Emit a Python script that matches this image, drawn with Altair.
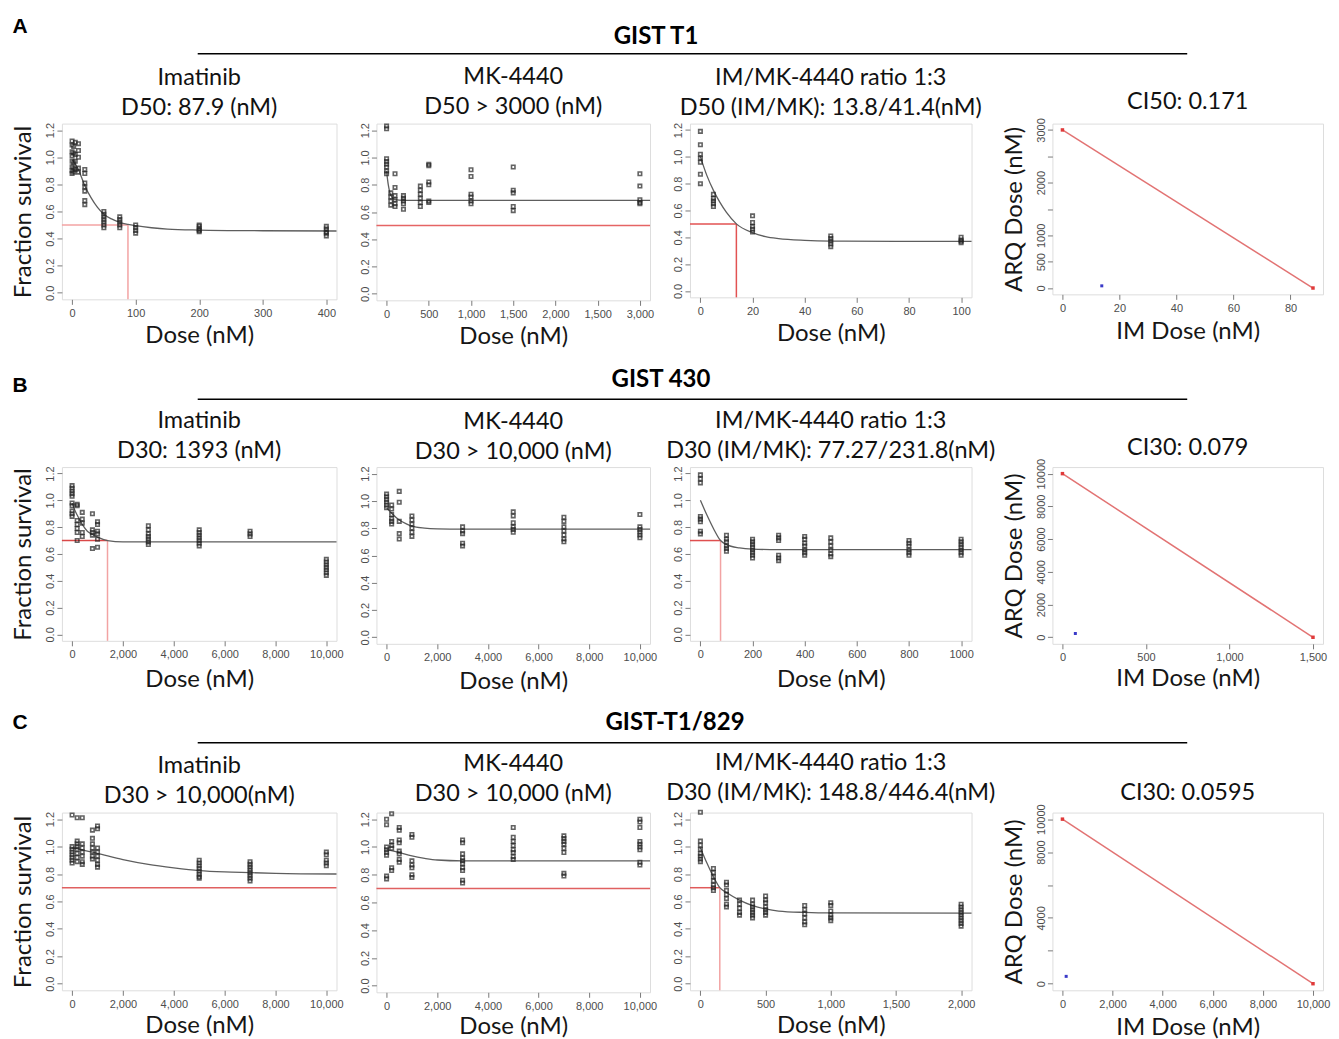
import altair as alt
import pandas as pd

TITLE_FONT = "Lato"
TICK_FONT = "Liberation Sans"

# ---------------- shared survival y axis ----------------
Y_TICKS = [0, 0.2, 0.4, 0.6, 0.8, 1.0, 1.2]
Y_LABELS = ["0.0", "0.2", "0.4", "0.6", "0.8", "1.0", "1.2"]
Y_LIM = [-0.048, 1.248]

COMMA_10K_TICKS = [0, 2000, 4000, 6000, 8000, 10000]
COMMA_10K_LABELS = ["0", "2,000", "4,000", "6,000", "8,000", "10,000"]

# ---------------- section headers ----------------
SECTION_LETTERS = ["A", "B", "C"]
SECTION_TITLES = ["GIST T1", "GIST 430", "GIST-T1/829"]

# ================= Row A : GIST T1 =================
A1_title = ["Imatinib", "D50: 87.9 (nM)"]
A1_dose = [0, 2.5, 5, 10, 20, 50, 75, 100, 200, 400]
A1_surv = [
    [1.12, 1.09, 1.04, 1.01, 0.97, 0.93, 0.90, 0.88],
    [1.08, 1.03, 0.96, 0.92, 0.89],
    [1.11, 1.02, 0.97, 0.91],
    [1.10, 1.05, 1.00, 0.92, 0.89],
    [0.91, 0.88, 0.81, 0.78, 0.75, 0.68, 0.65],
    [0.60, 0.58, 0.56, 0.54, 0.52, 0.50, 0.48],
    [0.56, 0.54, 0.52, 0.50, 0.48],
    [0.50, 0.48, 0.46, 0.44],
    [0.50, 0.49, 0.47, 0.46, 0.45],
    [0.49, 0.47, 0.45, 0.44, 0.42],
]
A1_curve_x = [0, 5, 10, 15, 20, 30, 40, 50, 62, 75, 87.9, 100, 125, 150, 200, 300, 416]
A1_curve_y = [0.98, 0.95, 0.91, 0.85, 0.79, 0.70, 0.63, 0.58, 0.545, 0.52, 0.505, 0.495, 0.48, 0.47, 0.463, 0.458, 0.456]
A1_xmax = 400
A1_xticks = [0, 100, 200, 300, 400]
A1_xlabels = ["0", "100", "200", "300", "400"]
A1_level, A1_d = 0.5, 87.9

A2_title = ["MK-4440", "D50 > 3000 (nM)"]
A2_dose = [0, 50, 100, 200, 400, 500, 1000, 1500, 3000]
A2_surv = [
    [1.23, 1.21, 0.99, 0.97, 0.95, 0.93, 0.90, 0.88],
    [0.74, 0.71, 0.68, 0.65],
    [0.88, 0.78, 0.72, 0.69, 0.66, 0.64],
    [0.72, 0.70, 0.68, 0.66, 0.62],
    [0.79, 0.76, 0.73, 0.70, 0.67, 0.64],
    [0.95, 0.94, 0.82, 0.80, 0.68, 0.67],
    [0.91, 0.86, 0.73, 0.71, 0.68, 0.66],
    [0.93, 0.76, 0.74, 0.64, 0.61],
    [0.88, 0.79, 0.69, 0.67, 0.66],
]
A2_curve_x = [0, 20, 40, 60, 100, 200, 400, 1000, 3120]
A2_curve_y = [0.90, 0.80, 0.74, 0.71, 0.69, 0.685, 0.685, 0.685, 0.685]
A2_xmax = 3000
A2_xticks = [0, 500, 1000, 1500, 2000, 2500, 3000]
A2_xlabels = ["0", "500", "1,000", "1,500", "2,000", "1,500", "3,000"]
A2_level = 0.5

A3_title = ["IM/MK-4440 ratio 1:3", "D50 (IM/MK): 13.8/41.4(nM)"]
A3_dose = [0, 5, 20, 50, 100]
A3_surv = [
    [1.19, 1.09, 1.02, 0.99, 0.96, 0.87, 0.80],
    [0.72, 0.69, 0.67, 0.65, 0.63],
    [0.56, 0.51, 0.48, 0.46, 0.44],
    [0.41, 0.39, 0.37, 0.35, 0.33],
    [0.40, 0.38, 0.37, 0.36],
]
A3_curve_x = [0, 2.5, 5, 7.5, 10, 13.8, 20, 25, 30, 40, 50, 75, 104]
A3_curve_y = [1.0, 0.86, 0.75, 0.66, 0.585, 0.50, 0.435, 0.405, 0.39, 0.377, 0.372, 0.37, 0.37]
A3_xmax = 100
A3_xticks = [0, 20, 40, 60, 80, 100]
A3_xlabels = ["0", "20", "40", "60", "80", "100"]
A3_level, A3_d = 0.5, 13.8

A4_title = "CI50: 0.171"
A4_ends_x = [0, 87.9]
A4_ends_y = [3000, 0]
A4_comb_x = [13.8]
A4_comb_y = [41.4]
A4_xticks = [0, 20, 40, 60, 80]
A4_xlabels = ["0", "20", "40", "60", "80"]
A4_yticks = [0, 500, 1000, 1500, 2000, 2500, 3000]
A4_ylabels = ["0", "500", "1000", "", "2000", "", "3000"]

# ================= Row B : GIST 430 =================
B1_title = ["Imatinib", "D30: 1393 (nM)"]
B1_dose = [0, 200, 400, 800, 1000, 3000, 5000, 7000, 10000]
B1_surv = [
    [1.11, 1.09, 1.07, 1.05, 1.03, 0.98, 0.96, 0.92, 0.90, 0.88],
    [0.97, 0.96, 0.85, 0.82, 0.79, 0.76, 0.70],
    [0.91, 0.86, 0.83, 0.76, 0.73],
    [0.90, 0.78, 0.76, 0.74, 0.64],
    [0.84, 0.82, 0.77, 0.75, 0.71, 0.65],
    [0.81, 0.78, 0.75, 0.73, 0.71, 0.69, 0.67],
    [0.78, 0.76, 0.74, 0.72, 0.70, 0.68, 0.66],
    [0.77, 0.75, 0.73],
    [0.56, 0.54, 0.52, 0.50, 0.48, 0.46, 0.44],
]
B1_curve_x = [0, 100, 200, 400, 600, 800, 1000, 1393, 2000, 3000, 10400]
B1_curve_y = [0.98, 0.93, 0.89, 0.82, 0.77, 0.745, 0.725, 0.70, 0.69, 0.69, 0.69]
B1_xmax = 10000
B1_level, B1_d = 0.7, 1393

B2_title = ["MK-4440", "D30 > 10,000 (nM)"]
B2_dose = [0, 200, 500, 1000, 3000, 5000, 7000, 10000]
B2_surv = [
    [1.05, 1.03, 1.01, 0.99, 0.97, 0.95],
    [0.97, 0.94, 0.90, 0.87, 0.85, 0.83],
    [1.07, 0.99, 0.85, 0.76, 0.72],
    [0.89, 0.86, 0.83, 0.80, 0.77, 0.74],
    [0.81, 0.78, 0.76, 0.69, 0.67],
    [0.92, 0.89, 0.84, 0.81, 0.79, 0.77],
    [0.88, 0.85, 0.81, 0.78, 0.75, 0.72, 0.70],
    [0.90, 0.81, 0.79, 0.77, 0.75, 0.73],
]
B2_curve_x = [0, 200, 500, 800, 1000, 1500, 2000, 3000, 10400]
B2_curve_y = [0.95, 0.91, 0.86, 0.83, 0.815, 0.80, 0.795, 0.793, 0.793]
B2_xmax = 10000

B3_title = ["IM/MK-4440 ratio 1:3", "D30 (IM/MK): 77.27/231.8(nM)"]
B3_dose = [0, 100, 200, 300, 400, 500, 800, 1000]
B3_surv = [
    [1.19, 1.16, 1.13, 0.88, 0.86, 0.84, 0.77, 0.75],
    [0.74, 0.71, 0.69, 0.66, 0.64, 0.62],
    [0.71, 0.69, 0.67, 0.65, 0.63, 0.61, 0.59, 0.57],
    [0.74, 0.72, 0.70, 0.59, 0.57, 0.55],
    [0.73, 0.71, 0.68, 0.66, 0.63, 0.61, 0.59],
    [0.72, 0.69, 0.66, 0.63, 0.60, 0.58],
    [0.70, 0.68, 0.66, 0.63, 0.61, 0.59],
    [0.71, 0.69, 0.67, 0.65, 0.63, 0.61, 0.59],
]
B3_curve_x = [0, 25, 50, 77.27, 100, 150, 200, 300, 1040]
B3_curve_y = [1.0, 0.89, 0.79, 0.70, 0.67, 0.645, 0.636, 0.632, 0.632]
B3_xmax = 1000
B3_xticks = [0, 200, 400, 600, 800, 1000]
B3_xlabels = ["0", "200", "400", "600", "800", "1000"]
B3_level, B3_d = 0.7, 77.27

B4_title = "CI30: 0.079"
B4_ends_x = [0, 1500]
B4_ends_y = [10000, 0]
B4_comb_x = [77.27]
B4_comb_y = [231.8]
B4_xticks = [0, 500, 1000, 1500]
B4_xlabels = ["0", "500", "1,000", "1,500"]
B4_yticks = [0, 2000, 4000, 6000, 8000, 10000]
B4_ylabels = ["0", "2000", "4000", "6000", "8000", "10000"]

# ================= Row C : GIST-T1/829 =================
C1_title = ["Imatinib", "D30 > 10,000(nM)"]
C1_dose = [0, 200, 400, 800, 1000, 5000, 7000, 10000]
C1_surv = [
    [1.23, 1.00, 0.98, 0.96, 0.94, 0.92, 0.90, 0.88],
    [1.21, 1.04, 1.02, 1.00, 0.98, 0.95, 0.92, 0.89],
    [1.21, 1.02, 0.99, 0.96, 0.93, 0.89, 0.87],
    [1.12, 1.06, 1.02, 0.99, 0.96, 0.93, 0.91],
    [1.15, 1.13, 0.99, 0.96, 0.93, 0.90, 0.87, 0.85],
    [0.90, 0.88, 0.86, 0.84, 0.82, 0.80, 0.78, 0.77],
    [0.89, 0.87, 0.85, 0.83, 0.81, 0.79, 0.77, 0.75],
    [0.96, 0.94, 0.90, 0.88, 0.86],
]
C1_curve_x = [0, 300, 1000, 2000, 3000, 4000, 5000, 6000, 7000, 8000, 10400]
C1_curve_y = [0.99, 0.98, 0.95, 0.905, 0.87, 0.845, 0.825, 0.815, 0.81, 0.805, 0.80]
C1_xmax = 10000
C1_level = 0.7

C2_title = ["MK-4440", "D30 > 10,000 (nM)"]
C2_dose = [0, 200, 500, 1000, 3000, 5000, 7000, 10000]
C2_surv = [
    [1.20, 1.16, 1.00, 0.98, 0.96, 0.94, 0.79, 0.77],
    [1.24, 1.04, 1.01, 0.99, 0.85, 0.83],
    [1.14, 1.12, 1.05, 1.03, 0.97, 0.95, 0.91, 0.89],
    [1.09, 1.07, 0.90, 0.87, 0.85, 0.80, 0.78],
    [1.05, 1.03, 0.95, 0.92, 0.90, 0.88, 0.85, 0.83, 0.76, 0.74],
    [1.14, 1.07, 1.04, 1.01, 0.98, 0.96, 0.93, 0.91],
    [1.08, 1.06, 1.04, 1.02, 0.99, 0.96, 0.81, 0.79],
    [1.20, 1.18, 1.14, 1.04, 1.02, 1.00, 0.98, 0.89, 0.87],
]
C2_curve_x = [0, 400, 1000, 1500, 2000, 3000, 10400]
C2_curve_y = [0.98, 0.965, 0.935, 0.918, 0.906, 0.90, 0.90]
C2_xmax = 10000
C2_level = 0.7

C3_title = ["IM/MK-4440 ratio 1:3", "D30 (IM/MK): 148.8/446.4(nM)"]
C3_dose = [0, 100, 200, 300, 400, 500, 800, 1000, 2000]
C3_surv = [
    [1.25, 1.04, 1.01, 0.98, 0.95, 0.93, 0.91, 0.89],
    [0.84, 0.81, 0.78, 0.75, 0.72, 0.70, 0.68],
    [0.74, 0.72, 0.68, 0.65, 0.62, 0.58, 0.56],
    [0.61, 0.58, 0.55, 0.52, 0.50],
    [0.61, 0.58, 0.56, 0.54, 0.52, 0.50, 0.48],
    [0.64, 0.61, 0.59, 0.56, 0.54, 0.52, 0.50],
    [0.57, 0.54, 0.51, 0.48, 0.45, 0.43],
    [0.59, 0.57, 0.53, 0.50, 0.48, 0.46],
    [0.58, 0.56, 0.54, 0.52, 0.50, 0.48, 0.46, 0.44, 0.42],
]
C3_curve_x = [0, 50, 100, 148.8, 200, 300, 400, 500, 600, 800, 1000, 2080]
C3_curve_y = [0.99, 0.88, 0.78, 0.70, 0.665, 0.61, 0.57, 0.545, 0.53, 0.52, 0.516, 0.515]
C3_xmax = 2000
C3_xticks = [0, 500, 1000, 1500, 2000]
C3_xlabels = ["0", "500", "1,000", "1,500", "2,000"]
C3_level, C3_d = 0.7, 148.8

C4_title = "CI30: 0.0595"
C4_ends_x = [0, 10000]
C4_ends_y = [10000, 0]
C4_comb_x = [148.8]
C4_comb_y = [446.4]
C4_yticks = [0, 2000, 4000, 6000, 8000, 10000]
C4_ylabels = ["0", "", "4000", "", "8000", "10000"]


# ---------------- helpers ----------------
def label_expr(values, labels):
    expr = "''"
    for v, lab in reversed(list(zip(values, labels))):
        expr = f"datum.value == {v} ? '{lab}' : ({expr})"
    return expr


def x_axis(values, labels, title, pad):
    return alt.Axis(
        values=values, labelExpr=label_expr(values, labels), title=title,
        titlePadding=pad, titleFont=TITLE_FONT, titleFontSize=24,
        titleFontWeight="normal", titleColor="#161616",
        tickSize=5, tickColor="#7a7a7a", tickWidth=1, domain=False, grid=False,
        labelFont=TICK_FONT, labelFontSize=11, labelColor="#4d4d4d",
        labelPadding=3, labelOverlap=False, labelFlush=False,
    )


def y_axis(values, labels, title):
    return alt.Axis(
        values=values, labelExpr=label_expr(values, labels), title=title,
        titlePadding=9, titleFont=TITLE_FONT, titleFontSize=24,
        titleFontWeight="normal", titleColor="#161616",
        minExtent=17, maxExtent=17,
        tickSize=5, tickColor="#7a7a7a", tickWidth=1, domain=False, grid=False,
        labelFont=TICK_FONT, labelFontSize=11, labelColor="#4d4d4d",
        labelAngle=270, labelAlign="center", labelBaseline="bottom",
        labelPadding=1, labelOverlap=False, labelFlush=False,
    )


def panel_title(lines, offset):
    return alt.TitleParams(
        text=lines, font=TITLE_FONT, fontSize=23.5, fontWeight="normal",
        color="#111111", lineHeight=30, offset=offset, anchor="middle",
        frame="group",
    )


def survival(dose, surv, cx, cy, xmax, xticks, xlabels, title, w, h,
             level=None, dval=None, red=None, hcol="#e05a5a", vcol="#f2a0a0",
             ytitle="", xpad=10):
    xmin, xmx = -0.04 * xmax, 1.04 * xmax
    sx = alt.Scale(domain=[xmin, xmx], nice=False, zero=False)
    sy = alt.Scale(domain=Y_LIM, nice=False, zero=False)
    xa = x_axis(xticks, xlabels, "Dose (nM)", xpad)
    ya = y_axis(Y_TICKS, Y_LABELS, ytitle)
    X = lambda f: alt.X(f, scale=sx, axis=xa)
    Y = lambda f: alt.Y(f, scale=sy, axis=ya)

    pts = pd.DataFrame([{"x": d, "y": v} for d, vs in zip(dose, surv) for v in vs])
    layers = []
    if red == "cross":
        hdf = pd.DataFrame({"x": [xmin], "x2": [dval], "y": [level]})
        vdf = pd.DataFrame({"x": [dval], "y": [Y_LIM[0]], "y2": [level]})
        layers.append(alt.Chart(hdf).mark_rule(color=hcol, strokeWidth=1.5)
                      .encode(x=X("x:Q"), x2="x2:Q", y=Y("y:Q")))
        layers.append(alt.Chart(vdf).mark_rule(color=vcol, strokeWidth=1.5)
                      .encode(x=X("x:Q"), y=Y("y:Q"), y2="y2:Q"))
    elif red == "full":
        fdf = pd.DataFrame({"y": [level]})
        layers.append(alt.Chart(fdf).mark_rule(color=hcol, strokeWidth=1.5)
                      .encode(y=Y("y:Q")))
    cdf = pd.DataFrame({"x": cx, "y": cy})
    layers.append(alt.Chart(cdf).mark_line(color="#5e5e5e", strokeWidth=1.3,
                                           interpolate="monotone")
                  .encode(x=X("x:Q"), y=Y("y:Q")))
    layers.append(alt.Chart(pts).mark_point(shape="square", filled=False, size=12,
                                            strokeWidth=1.6, color="#222222")
                  .encode(x=X("x:Q"), y=Y("y:Q")))
    return alt.layer(*layers).properties(width=w, height=h,
                                         title=panel_title(title, 3))


def ci_panel(ex, ey, bx, by, xticks, xlabels, yticks, ylabels, title, w, h,
             xpad, toff):
    xmax, ymax = max(ex), max(ey)
    sx = alt.Scale(domain=[-0.04 * xmax, 1.04 * xmax], nice=False, zero=False)
    sy = alt.Scale(domain=[-0.04 * ymax, 1.04 * ymax], nice=False, zero=False)
    xa = x_axis(xticks, xlabels, "IM Dose (nM)", xpad)
    ya = y_axis(yticks, ylabels, "ARQ Dose (nM)")
    X = lambda f: alt.X(f, scale=sx, axis=xa)
    Y = lambda f: alt.Y(f, scale=sy, axis=ya)
    edf = pd.DataFrame({"x": ex, "y": ey})
    bdf = pd.DataFrame({"x": bx, "y": by})
    line = alt.Chart(edf).mark_line(color="#e27373", strokeWidth=1.5).encode(
        x=X("x:Q"), y=Y("y:Q"))
    ends = alt.Chart(edf).mark_point(shape="square", filled=True, size=12,
                                     color="#e03a3a", opacity=1).encode(
        x=X("x:Q"), y=Y("y:Q"))
    comb = alt.Chart(bdf).mark_point(shape="square", filled=True, size=9,
                                     color="#3a3ac8", opacity=1).encode(
        x=X("x:Q"), y=Y("y:Q"))
    return alt.layer(line, ends, comb).properties(
        width=w, height=h, title=panel_title(title, toff))


def header(i, w, h, letter_y, title_x, title_y, line_y):
    df = pd.DataFrame({"letter": [SECTION_LETTERS[i]], "title": [SECTION_TITLES[i]]})
    base = alt.Chart(df)
    lt = base.mark_text(font="Liberation Sans", fontSize=21, fontWeight="bold",
                        align="center", baseline="middle", color="black").encode(
        text="letter:N", x=alt.value(-42), y=alt.value(letter_y))
    tt = base.mark_text(font=TITLE_FONT, fontSize=24, fontWeight="bold",
                        align="center", baseline="middle", color="black").encode(
        text="title:N", x=alt.value(title_x), y=alt.value(title_y))
    ln = base.mark_rule(color="black", strokeWidth=1.5).encode(
        x=alt.value(136), x2=alt.value(1127), y=alt.value(line_y))
    return alt.layer(lt, tt, ln).properties(
        width=w, height=h, view=alt.ViewBackground(stroke="transparent"))


def filler(w, h):
    df = pd.DataFrame({"v": [0]})
    return alt.Chart(df).mark_rule(opacity=0).encode(
        x=alt.value(0), y=alt.value(0)
    ).properties(width=w, height=h, view=alt.ViewBackground(stroke="transparent"))


# ---------------- panels ----------------
W1, W2, W3, WS, W4 = 275, 274, 282, 1, 271

A1 = survival(A1_dose, A1_surv, A1_curve_x, A1_curve_y, A1_xmax, A1_xticks, A1_xlabels,
              A1_title, W1, 176, A1_level, A1_d, "cross", "#f3a3a3", "#f3a3a3",
              "Fraction survival", 5)
A2 = survival(A2_dose, A2_surv, A2_curve_x, A2_curve_y, A2_xmax, A2_xticks, A2_xlabels,
              A2_title, W2, 177, A2_level, None, "full", "#e56464", "#e56464", "", 5)
A3 = survival(A3_dose, A3_surv, A3_curve_x, A3_curve_y, A3_xmax, A3_xticks, A3_xlabels,
              A3_title, W3, 174, A3_level, A3_d, "cross", "#e25252", "#e25252", "", 5)
A4 = ci_panel(A4_ends_x, A4_ends_y, A4_comb_x, A4_comb_y, A4_xticks, A4_xlabels,
              A4_yticks, A4_ylabels, A4_title, W4, 171, 6, 4)

B1 = survival(B1_dose, B1_surv, B1_curve_x, B1_curve_y, B1_xmax, COMMA_10K_TICKS,
              COMMA_10K_LABELS, B1_title, W1, 174, B1_level, B1_d, "cross",
              "#d94848", "#f2a3a3", "Fraction survival", 8)
B2 = survival(B2_dose, B2_surv, B2_curve_x, B2_curve_y, B2_xmax, COMMA_10K_TICKS,
              COMMA_10K_LABELS, B2_title, W2, 177, xpad=7)
B3 = survival(B3_dose, B3_surv, B3_curve_x, B3_curve_y, B3_xmax, B3_xticks, B3_xlabels,
              B3_title, W3, 174, B3_level, B3_d, "cross", "#df4f4f", "#f2a3a3", "", 8)
B4 = ci_panel(B4_ends_x, B4_ends_y, B4_comb_x, B4_comb_y, B4_xticks, B4_xlabels,
              B4_yticks, B4_ylabels, B4_title, W4, 177, 4, -1)

C1 = survival(C1_dose, C1_surv, C1_curve_x, C1_curve_y, C1_xmax, COMMA_10K_TICKS,
              COMMA_10K_LABELS, C1_title, W1, 178, C1_level, None, "full",
              "#e06060", "#e06060", "Fraction survival", 4)
C2 = survival(C2_dose, C2_surv, C2_curve_x, C2_curve_y, C2_xmax, COMMA_10K_TICKS,
              COMMA_10K_LABELS, C2_title, W2, 180, C2_level, None, "full",
              "#e06060", "#e06060", "", 3)
C3 = survival(C3_dose, C3_surv, C3_curve_x, C3_curve_y, C3_xmax, C3_xticks, C3_xlabels,
              C3_title, W3, 178, C3_level, C3_d, "cross", "#e05a5a", "#f2a3a3", "", 4)
C4 = ci_panel(C4_ends_x, C4_ends_y, C4_comb_x, C4_comb_y, COMMA_10K_TICKS,
              COMMA_10K_LABELS, C4_yticks, C4_ylabels, C4_title, W4, 178, 6, -1)

hdrA = header(0, W1, 60, 17, 595, 27, 44)
hdrB = header(1, W1, 59, 32, 600, 26, 45)
hdrC = header(2, W1, 61, 25, 614, 25, 45)

cells = [
    hdrA, filler(W2, 1), filler(W3, 1), filler(WS, 1), filler(W4, 1),
    A1, A2, A3, filler(WS, 1), A4,
    hdrB, filler(W2, 1), filler(W3, 1), filler(WS, 1), filler(W4, 1),
    B1, B2, B3, filler(WS, 1), B4,
    hdrC, filler(W2, 1), filler(W3, 1), filler(WS, 1), filler(W4, 1),
    C1, C2, C3, filler(WS, 1), C4,
]

chart = alt.concat(
    *cells, columns=5, spacing={"row": 54, "column": 40}, bounds="flush"
).properties(
    padding={"left": 3, "top": 0, "right": 0, "bottom": 0}
).configure_view(
    stroke="#7f7f7f", strokeWidth=1.4
).configure(background="white")

chart.save("out.html", embed_options={"renderer": "svg", "actions": False})
